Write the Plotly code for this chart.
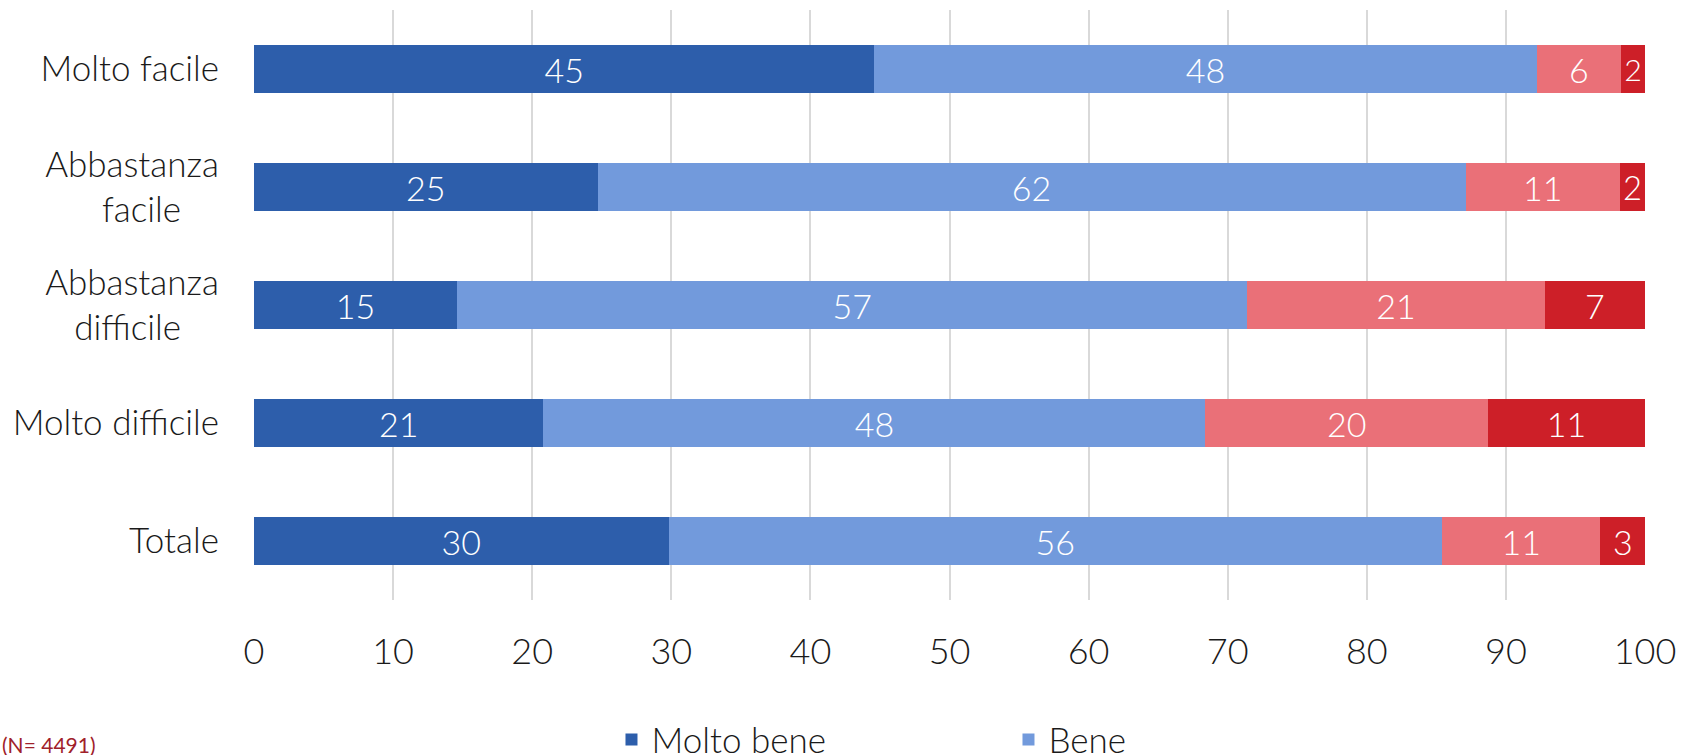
import plotly.graph_objects as go

NB = "\u00a0"
categories = ["Molto facile", "Abbastanza facile", "Abbastanza difficile", "Molto difficile", "Totale"]
tick_labels = ["Molto facile", "Abbastanza<br>facile" + NB * 4, "Abbastanza<br>difficile" + NB * 4,
               "Molto difficile", "Totale"]
molto_bene = [44.6, 24.7, 14.6, 20.8, 29.8]
bene = [47.6, 62.4, 56.8, 47.6, 55.6]
male = [6.1, 11.1, 21.4, 20.3, 11.4]
molto_male = [1.7, 1.8, 7.2, 11.3, 3.2]
note = "(N= 4491)"

series = [
    ("Molto bene", molto_bene, "#2D5EAB", "legend"),
    ("Bene", bene, "#729ADC", "legend"),
    ("Male", male, "#EA7078", "legend2"),
    ("Molto male", molto_male, "#CD1F28", "legend2"),
]

FONT = "Lato"
TXT = "#1a1a1a"
fig = go.Figure()
for name, vals, col, leg in series:
    fig.add_trace(go.Bar(
        y=categories, x=vals, name=name, orientation="h",
        marker=dict(color=col, line=dict(width=0)),
        texttemplate="%{x:.0f}", textposition="inside", insidetextanchor="middle",
        textangle=0,
        textfont=dict(color="white", size=34, family=FONT, weight=300),
        legend=leg,
    ))

fig.update_layout(
    barmode="stack", bargap=0.6,
    width=1681, height=755,
    margin=dict(l=254, r=36, t=10, b=155, autoexpand=False),
    plot_bgcolor="white", paper_bgcolor="white",
    font=dict(family=FONT, size=35, color=TXT, weight=300),
    legend=dict(orientation="h", x=0.257, xanchor="left", y=-0.187, yanchor="top",
                entrywidth=352, font=dict(size=35, family=FONT, weight=300, color=TXT),
                traceorder="normal"),
    legend2=dict(orientation="h", x=0.257, xanchor="left", y=-0.32, yanchor="top",
                 entrywidth=352, font=dict(size=35, family=FONT, weight=300, color=TXT),
                 traceorder="normal"),
    annotations=[dict(text=note, xref="paper", yref="paper", x=-0.1826, y=-0.245,
                      xanchor="left", yanchor="middle", showarrow=False,
                      font=dict(size=21, color="#A0212A", family=FONT, weight=400))],
)
fig.update_xaxes(range=[0, 100], dtick=10, showgrid=True, gridcolor="#D9D9D9", gridwidth=2,
                 zeroline=False, showline=False, ticks="", ticklabelstandoff=27,
                 tickfont=dict(size=36, family=FONT, weight=300, color=TXT))
fig.update_yaxes(autorange="reversed", tickmode="array", tickvals=categories, ticktext=tick_labels,
                 showgrid=False, zeroline=False, showline=False, ticks="", ticklabelstandoff=34,
                 tickfont=dict(size=35, family=FONT, weight=300, color=TXT))

fig.write_html("out.html", config={"displayModeBar": False},
               post_script="document.body.style.margin='0px';document.body.style.overflow='hidden';")
